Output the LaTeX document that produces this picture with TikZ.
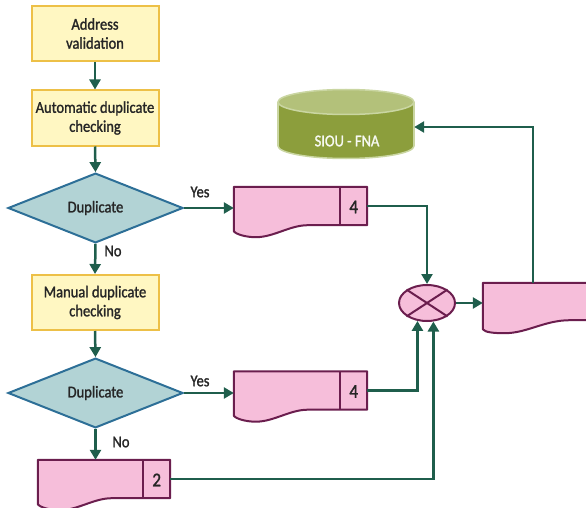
\documentclass[tikz,border=0pt]{standalone}
\usepackage{fontspec}
\setmainfont{Carlito}[FakeStretch=0.88, FakeBold=1.4]
\usetikzlibrary{arrows.meta,calc,shapes.geometric}

\definecolor{flow}{HTML}{1F5E4C}
\definecolor{procfill}{HTML}{FFF7C2}
\definecolor{procline}{HTML}{EDC047}
\definecolor{decfill}{HTML}{B2D3D5}
\definecolor{decline}{HTML}{2D6F97}
\definecolor{docfill}{HTML}{F6BEDA}
\definecolor{docline}{HTML}{6B1E4E}
\definecolor{dbbody}{HTML}{8C9E3C}
\definecolor{dbtop}{HTML}{B3C17A}
\definecolor{dbedge}{HTML}{CAD6A2}
\definecolor{txt}{HTML}{262626}

\tikzset{
  proc/.style={draw=procline, fill=procfill, line width=2pt,
    minimum width=127pt, minimum height=55pt, inner sep=2pt,
    align=center, text=txt, font=\fontsize{16.5}{19}\selectfont},
  dec/.style={diamond, draw=decline, fill=decfill, line width=2pt,
    minimum width=175pt, minimum height=68pt, inner sep=0pt,
    text=txt, font=\fontsize{16.5}{19}\selectfont},
  docbox/.style={rectangle, minimum height=38pt, inner sep=0pt},
  docpen/.style={draw=docline, fill=docfill, line width=2pt, line join=round},
  num/.style={text=txt, font=\fontsize{19.5}{21}\selectfont, inner sep=0pt},
  lbl/.style={text=txt, font=\fontsize{16.5}{19}\selectfont, inner sep=0pt},
  flowline/.style={draw=flow, line width=2.5pt},
  flowarrow/.style={flowline, -{Triangle[length=10pt,width=11pt]}},
  merge/.style={ellipse, draw=docline, fill=docfill, line width=2pt,
    minimum width=56pt, minimum height=36pt, inner sep=0pt},
}

% document symbol with a numbered cell on its right end
\newcommand\docsymbol[2]{%
  \filldraw[docpen] (#1.north west) -- (#1.north east) -- (#1.south east)
    -- ($(#1.south west)+(74,0)$)
    .. controls +(-18,0) and +(18,0) .. ($(#1.south west)+(22,12)$)
    .. controls +(-10,0) and +(2,3) .. ($(#1.south west)+(0,6)$) -- cycle;
  \draw[docpen] ($(#1.north east)+(-27,0)$) -- ($(#1.south east)+(-27,0)$);
  \node[num] (#1-n) at ($(#1.east)+(-13.5,1)$) {#2};}

\begin{document}
\begin{tikzpicture}[x=1pt,y=-1pt]
\path[use as bounding box] (0,0) rectangle (586,508);
\clip (0,0) rectangle (586,508);

% process steps and decisions
\node[proc] (addr) at (95,33.5) {Address\\validation};
\node[proc] (auto) at (95,118) {Automatic duplicate\\checking};
\node[dec] (dup1) at (95.5,208) {Duplicate};
\node[proc] (manual) at (95,302.5) {Manual duplicate\\checking};
\node[dec] (dup2) at (95.5,393) {Duplicate};

% documents
\node[docbox, minimum width=133pt] (doc1) at (300.5,206) {};
\docsymbol{doc1}{4}
\node[docbox, minimum width=133pt] (doc2) at (300.5,390.5) {};
\docsymbol{doc2}{4}
\node[docbox, minimum width=132pt] (doc3) at (104,479) {};
\docsymbol{doc3}{2}

% merged output document
\node[docbox, minimum width=200pt, minimum height=37pt] (doc4) at (583,301.5) {};
\filldraw[docpen] (doc4.north west) -- (doc4.north east) -- (doc4.south east)
  -- ($(doc4.south west)+(87,0)$)
  .. controls +(-25,0) and +(22,0) .. ($(doc4.south west)+(22,13)$)
  .. controls +(-12,0) and +(2,3) .. ($(doc4.south west)+(0,9)$) -- cycle;

% merge symbol
\node[merge] (mix) at (427,303) {};
\draw[docline, line width=2pt] (mix.north west) -- (mix.south east)
  (mix.north east) -- (mix.south west);

% database cylinder
\fill[dbbody] (346,146) ellipse [x radius=68, y radius=12.5];
\draw[dbedge, line width=1.5pt] (346,146) ellipse [x radius=68, y radius=12.5];
\fill[dbbody] (278,102) rectangle (414,146);
\draw[dbedge, line width=1.5pt] (278,102) -- (278,146) (414,102) -- (414,146);
\filldraw[fill=dbtop, draw=dbedge, line width=1.5pt] (346,102) ellipse [x radius=68, y radius=12.5];
\node[minimum width=136pt, minimum height=60pt, inner sep=0pt] (db) at (346,127) {};
\node[text=white!90!dbtop, font=\fontsize{16.5}{19}\selectfont, inner sep=0pt] (dblabel) at (347,141) {SIOU - FNA};

% connectors
\draw[flowarrow] (addr.south) -- (auto.north);
\draw[flowarrow] (auto.south) -- (dup1.north);
\draw[flowarrow] (dup1.south) -- (manual.north);
\draw[flowarrow] (manual.south) -- (dup2.north);
\draw[flowarrow] (dup2.south) -- (dup2.south |- doc3.north);
\draw[flowarrow] (dup1.east) -- (dup1.east -| doc1.west);
\draw[flowarrow] (dup2.east) -- (dup2.east -| doc2.west);
\draw[flowarrow] (doc1.east) -| (mix.north);
\draw[flowarrow] (doc2.east) -| (mix.242);
\draw[flowarrow] (doc3.east) -| (mix.289);
\draw[flowarrow] (mix.east) -- (mix.east -| doc4.west);
\coordinate (out) at ($(doc4.north west)+(50,0)$);
\draw[flowarrow] (out) |- (db.east);

% branch labels
\node[lbl] (yes1) at (200,192) {Yes};
\node[lbl] (no1) at (113,251) {No};
\node[lbl] (yes2) at (200,381) {Yes};
\node[lbl] (no2) at (121,442) {No};
\end{tikzpicture}
\end{document}
